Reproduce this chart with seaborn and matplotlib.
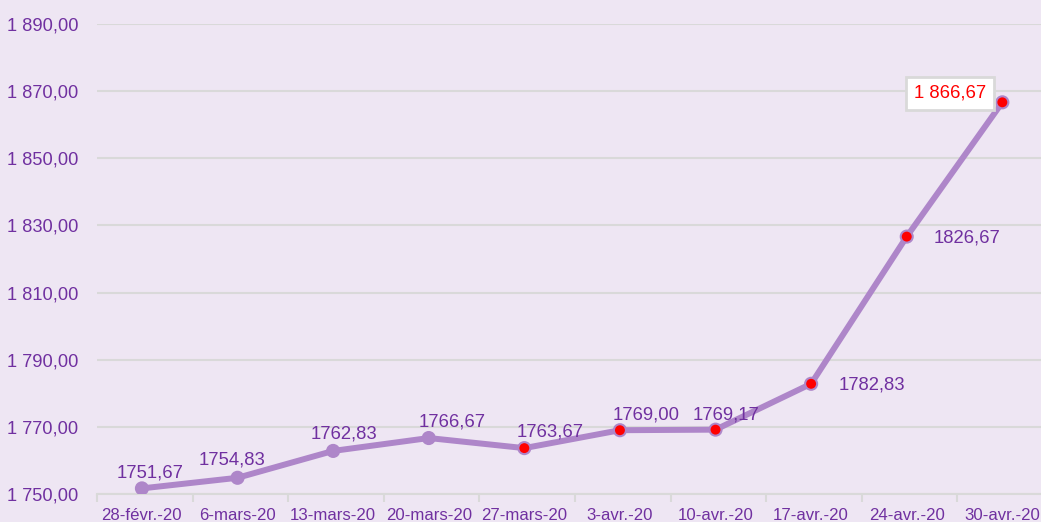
import numpy as np
import pandas as pd
import seaborn as sns
from matplotlib import pyplot as plt
from matplotlib import font_manager

dates = ['28-févr.-20', '6-mars-20', '13-mars-20', '20-mars-20', '27-mars-20',
         '3-avr.-20', '10-avr.-20', '17-avr.-20', '24-avr.-20', '30-avr.-20']
values = [1751.67, 1754.83, 1762.83, 1766.67, 1763.67,
          1769.00, 1769.17, 1782.83, 1826.67, 1866.67]
yticks = [1750, 1770, 1790, 1810, 1830, 1850, 1870, 1890]

bg = '#EEE6F3'
line_c = '#AE86C9'
text_c = '#7030A0'
grid_c = '#D9D9D9'

sns.set_theme(style='white')
names = {f.name for f in font_manager.fontManager.ttflist}
narrow = 'Liberation Sans Narrow' in names
plt.rcParams['font.family'] = ['Liberation Sans Narrow' if narrow else 'Liberation Sans', 'DejaVu Sans']
k = 1.0 if narrow else 0.9  # shrink a bit if no narrow face

df = pd.DataFrame({'date': dates, 'value': values, 'x': np.arange(len(dates))})

fig = plt.figure(figsize=(10.41, 5.22), dpi=100)
fig.patch.set_facecolor(bg)
ax = fig.add_axes([97 / 1041, 28 / 522, 956 / 1041, 470 / 522])
ax.set_facecolor(bg)

for t in yticks:
    ax.axhline(t, color=grid_c, lw=1.5, zorder=0)

sns.lineplot(data=df, x='x', y='value', color=line_c, lw=4.3, ax=ax, zorder=2)
colors = [line_c] * 4 + ['red'] * 6
ax.scatter(df['x'], df['value'], s=75, c=colors, edgecolors=line_c, linewidths=1.5, zorder=3)

# data label offsets in pixels: (dx, dy, ha)
offsets = [(8, 15, 'center'), (-5, 18, 'center'), (11, 17, 'center'), (23, 16, 'center'),
           (26, 16, 'center'), (26, 15, 'center'), (10, 15, 'center'), (27, -1, 'left'),
           (27, -1, 'left')]
for i, (dx, dy, ha) in enumerate(offsets):
    ax.annotate(f'{values[i]:.2f}'.replace('.', ','), (i, values[i]), xytext=(dx, dy),
                textcoords='offset pixels', ha=ha, va='center', color=text_c,
                fontsize=14.8 * k, zorder=4)
last = f'{values[-1]:,.2f}'.replace(',', ' ').replace('.', ',')
ax.annotate(last, (9, values[-1]), xytext=(-52, 9), textcoords='offset pixels',
            ha='center', va='center', color='red', fontsize=14.8 * k, zorder=4,
            bbox=dict(boxstyle='square,pad=0.42', fc='white', ec=grid_c, lw=2))

ax.set_xlim(-0.47, 9.53)
ax.set_ylim(1750, 1890)
ax.set_yticks(yticks)
ax.set_yticklabels([f'{t:,.2f}'.replace(',', ' ').replace('.', ',') for t in yticks],
                   color=text_c, fontsize=14.6 * k)
ax.set_xticks(df['x'])
ax.set_xticklabels(dates, color=text_c, fontsize=13.4 * k)
ax.set_xticks(np.arange(10) - 0.47, minor=True)
ax.tick_params(axis='x', which='major', length=0, pad=10)
ax.tick_params(axis='x', which='minor', length=6, color=grid_c, width=1.5, direction='out', bottom=True)
ax.tick_params(axis='y', length=0, pad=13.5)
ax.set_xlabel('')
ax.set_ylabel('')
for s in ['top', 'right', 'left']:
    ax.spines[s].set_visible(False)
ax.spines['bottom'].set_color(grid_c)
ax.spines['bottom'].set_linewidth(1.5)

fig.savefig('out.png', dpi=100, facecolor=bg)
